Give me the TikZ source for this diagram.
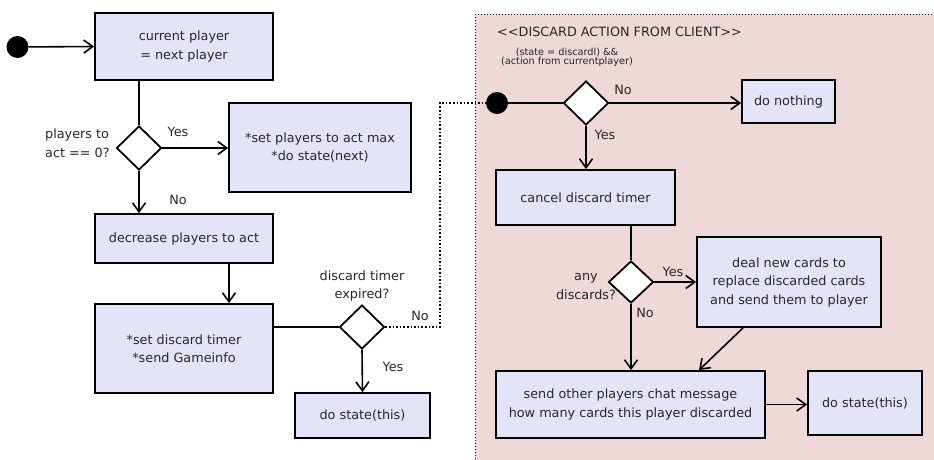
\documentclass[tikz,border=0pt]{standalone}
\usepackage{fontspec}
\setmainfont{DejaVu Sans}
\usetikzlibrary{shapes.geometric,arrows.meta}
\definecolor{boxfill}{RGB}{228,228,248}
\definecolor{regionfill}{RGB}{238,216,216}
\definecolor{inktext}{RGB}{40,40,40}
\begin{document}
\begin{tikzpicture}[x=1pt,y=-1pt,
  font=\fontsize{12.8}{18.5}\selectfont,
  every node/.style={text=inktext},
  box/.style={draw=black,fill=boxfill,line width=1.8pt,inner sep=0pt,align=center},
  decision/.style={diamond,draw=black,fill=white,line width=1.8pt,inner sep=0pt,
    minimum width=45pt,minimum height=44pt},
  startdot/.style={circle,fill=black,inner sep=0pt,minimum size=22pt},
  flow/.style={line width=1.6pt},
  arr/.style={flow,-{Straight Barb[length=9pt,width=13pt,line width=1.6pt]}},
  lbl/.style={inner sep=0pt,align=center},
  smalllbl/.style={inner sep=0pt,align=center,font=\fontsize{9.7}{9.5}\selectfont}]
\clip (0,0) rectangle (934,459);

% region for the client's discard action
\draw[fill=regionfill,dotted,line width=1pt] (475,14) rectangle (950,480);
\node[lbl,anchor=west] (title) at (497,32) {<{}<DISCARD ACTION FROM CLIENT>{}>};

% main loop
\node[startdot] (dot1) at (17.5,47) {};
\node[box,minimum width=178pt,minimum height=67pt] (box1) at (184,46.5) {current player\\ = next player};
\node[decision] (d1) at (139,148) {};
\node[box,minimum width=182pt,minimum height=89pt] (box2) at (320,147.5) {*set players to act max\\*do state(next)};
\node[box,minimum width=178pt,minimum height=49pt] (box3) at (184,238.5) {decrease players to act};
\node[box,minimum width=178pt,minimum height=89pt] (box4) at (184,348.5) {*set discard timer\\*send Gameinfo};
\node[decision] (d2) at (362,327) {};
\node[box,minimum width=135pt,minimum height=45pt] (box5) at (362.5,415.5) {do state(this)};
\coordinate (bend) at (440,103);

\node[lbl,anchor=west,align=left] (q1) at (45,143) {players to\\act == 0?};
\node[lbl] (y1) at (178,132) {Yes};
\node[lbl] (n1) at (178,200) {No};
\node[lbl] (q2) at (362,286) {discard timer\\expired?};
\node[lbl] (n2) at (420,316) {No};
\node[lbl] (y2) at (393,367) {Yes};

\draw[arr] (dot1) -- (box1.west);
\draw[flow] (d1.north |- box1.south) -- (d1.north);
\draw[arr] (d1.east) -- (d1.east -| box2.west);
\draw[arr] (d1.south) -- (d1.south |- box3.north);
\draw[arr] ([xshift=45pt]box3.south) -- ([xshift=45pt]box4.north);
\draw[flow] (box4.east |- d2.west) -- (d2.west);
\draw[arr] (d2.south) -- (box5.north);

% client action
\node[startdot] (dot2) at (497,103) {};
\node[smalllbl] (q3) at (567,57.5) {(state = discardl) \&\&\\(action from currentplayer)};
\node[decision] (d3) at (586,103) {};
\node[box,minimum width=93pt,minimum height=43pt] (dn) at (788.5,101.5) {do nothing};
\node[box,minimum width=179pt,minimum height=55pt] (cancel) at (585.5,197.5) {cancel discard timer};
\node[decision,minimum height=42pt] (d4) at (631,282) {};
\node[box,minimum width=184pt,minimum height=90pt] (deal) at (789,282) {deal new cards to\\replace discarded cards\\and send them to player};
\node[box,minimum width=269pt,minimum height=67pt] (send) at (630.5,404.5) {send other players chat message\\how many cards this player discarded};
\node[box,minimum width=114pt,minimum height=64pt] (ds2) at (865,403) {do state(this)};

\node[lbl] (n3) at (623,90) {No};
\node[lbl] (y3) at (605,135) {Yes};
\node[lbl] (q4) at (586,286.5) {any\\discards?};
\node[lbl] (y4) at (673,272) {Yes};
\node[lbl] (n4) at (645,313) {No};

\draw[flow,dotted,line width=2pt] (d2.east) -| (bend) -- (dot2.west);
\draw[flow] (dot2) -- (d3.west);
\draw[arr] (d3.east) -- (d3.east -| dn.west);
\draw[arr] (d3.south) -- (d3.south |- cancel.north);
\draw[flow] (d4.north |- cancel.south) -- (d4.north);
\draw[arr] (d4.east) -- (deal.west);
\draw[arr] (d4.south) -- (d4.south |- send.north);
\draw[arr] ([xshift=-46pt]deal.south) -- ([xshift=68.5pt]send.north);
\draw[arr] (send.east) -- (send.east -| ds2.west);
\end{tikzpicture}
\end{document}
